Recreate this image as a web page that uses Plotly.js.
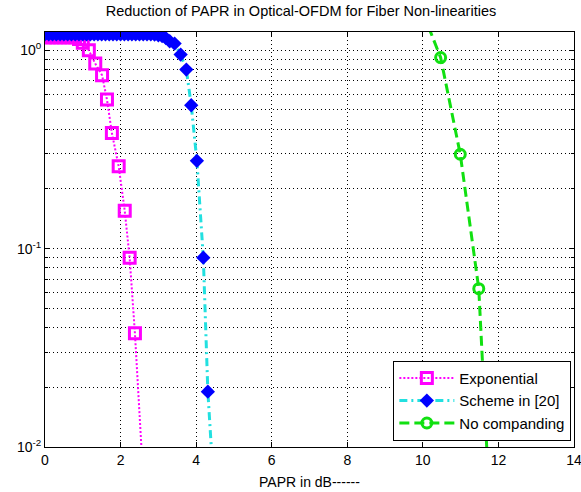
<!DOCTYPE html>
<html>
<head>
<meta charset="utf-8">
<script src="https://cdn.plot.ly/plotly-3.0.1.min.js"></script>
<style>html,body{margin:0;padding:0;background:#fff;}#chart{width:581px;height:492px;}</style>
</head>
<body>
<div id="chart"></div>
<script>
// Exponential companding
const expX = [0, 0.1, 0.2, 0.3, 0.4, 0.5, 0.6, 0.7, 0.8, 0.9, 1.0, 1.16, 1.33, 1.51, 1.64, 1.77, 1.95, 2.11, 2.24, 2.38, 2.67];
const expY = [1.163, 1.163, 1.163, 1.163, 1.163, 1.163, 1.163, 1.163, 1.163, 1.14, 1.09, 1.0, 0.857, 0.748, 0.564, 0.383, 0.26, 0.155, 0.090, 0.0374, 0.004];

// Scheme in [20]
const schX = [0, 0.1, 0.2, 0.3, 0.4, 0.5, 0.6, 0.7, 0.8, 0.9, 1.0, 1.1, 1.2, 1.3, 1.4, 1.5, 1.6, 1.7, 1.8, 1.9, 2.0,
              2.1, 2.2, 2.3, 2.4, 2.5, 2.6, 2.7, 2.8, 2.9, 3.0, 3.1, 3.2, 3.3, 3.43, 3.59, 3.74, 3.87, 4.02, 4.19, 4.31, 4.53];
const schY = [1.204, 1.204, 1.204, 1.204, 1.204, 1.204, 1.204, 1.204, 1.204, 1.204, 1.204, 1.204, 1.204, 1.204, 1.204,
              1.204, 1.204, 1.204, 1.204, 1.204, 1.204, 1.204, 1.204, 1.204, 1.204, 1.204, 1.204, 1.204, 1.204, 1.2,
              1.19, 1.18, 1.15, 1.11, 1.08, 0.951, 0.799, 0.528, 0.277, 0.090, 0.019, 0.004];

// No companding
const ncX = [10.0, 10.47, 10.99, 11.48, 12.0];
const ncY = [1.55, 0.919, 0.299, 0.0628, 0.00066];

const names = ['Exponential', 'Scheme in [20]', 'No companding'];
const xTicks = [0, 2, 4, 6, 8, 10, 12, 14];
const yTicks = [0.01, 0.1, 1];
const yTickText = ['10<sup>-2</sup>', '10<sup>-1</sup>', '10<sup>0</sup>'];
const yMinor = [0.02, 0.03, 0.04, 0.05, 0.06, 0.07, 0.08, 0.09, 0.2, 0.3, 0.4, 0.5, 0.6, 0.7, 0.8, 0.9];

const GRIDDASH = '1px,3px';

const traces = [
  {
    x: expX, y: expY, name: names[0], type: 'scatter', mode: 'lines+markers',
    line: {color: '#ff00ff', width: 2, dash: '2px,2px'},
    marker: {symbol: 'square-open', size: 11, color: '#ff00ff', line: {width: 3, color: '#ff00ff'}}
  },
  {
    x: schX, y: schY, name: names[1], type: 'scatter', mode: 'lines+markers',
    line: {color: '#22e0e0', width: 3, dash: '8px,4px,2px,4px'},
    marker: {symbol: 'diamond', size: 11, color: '#0000ff', line: {width: 0}}
  },
  {
    x: ncX, y: ncY, name: names[2], type: 'scatter', mode: 'lines+markers',
    line: {color: '#11e011', width: 3, dash: '10px,5px'},
    marker: {symbol: 'circle-open', size: 10, color: '#11e011', line: {width: 3, color: '#11e011'}}
  }
];

const layout = {
  width: 581, height: 492,
  margin: {l: 45, r: 7, t: 32, b: 45},
  paper_bgcolor: '#fff', plot_bgcolor: '#fff',
  font: {family: 'Liberation Sans, Arial, sans-serif', size: 12, color: '#000'},
  title: {text: 'Reduction of PAPR in Optical-OFDM for Fiber Non-linearities', x: 0.518, xanchor: 'center', y: 0.988, yanchor: 'top', font: {size: 14.5}},
  xaxis: {
    range: [0, 14], tickvals: xTicks, ticktext: xTicks.map(String),
    showline: true, mirror: 'ticks', linecolor: '#000', linewidth: 1,
    ticks: 'inside', ticklen: 5, tickcolor: '#000',
    showgrid: true, gridcolor: '#000', gridwidth: 1, griddash: GRIDDASH,
    zeroline: false, ticklabeloverflow: 'allow',
    title: {text: 'PAPR in dB------', font: {size: 14}, standoff: 10},
    tickfont: {size: 14}
  },
  yaxis: {
    type: 'log', range: [-2, 0.092], tickmode: 'array', tickvals: yTicks, ticktext: yTickText,
    showline: true, mirror: 'ticks', linecolor: '#000', linewidth: 1,
    ticks: 'inside', ticklen: 5, tickcolor: '#000',
    showgrid: true, gridcolor: '#000', gridwidth: 1, griddash: GRIDDASH,
    zeroline: false, tickfont: {size: 14}, ticklabeloverflow: 'allow',
    minor: {tickmode: 'array', tickvals: yMinor, ticks: 'inside', ticklen: 3, tickcolor: '#000',
            showgrid: true, gridcolor: '#000', gridwidth: 1, griddash: GRIDDASH}
  },
  legend: {
    x: 0.995, xanchor: 'right', y: 0.015, yanchor: 'bottom',
    bgcolor: '#fff', bordercolor: '#000', borderwidth: 1,
    font: {size: 15}, itemwidth: 55, tracegroupgap: 0
  },
  showlegend: true
};

Plotly.newPlot('chart', traces, layout, {displayModeBar: false, staticPlot: true});
</script>
</body>
</html>
